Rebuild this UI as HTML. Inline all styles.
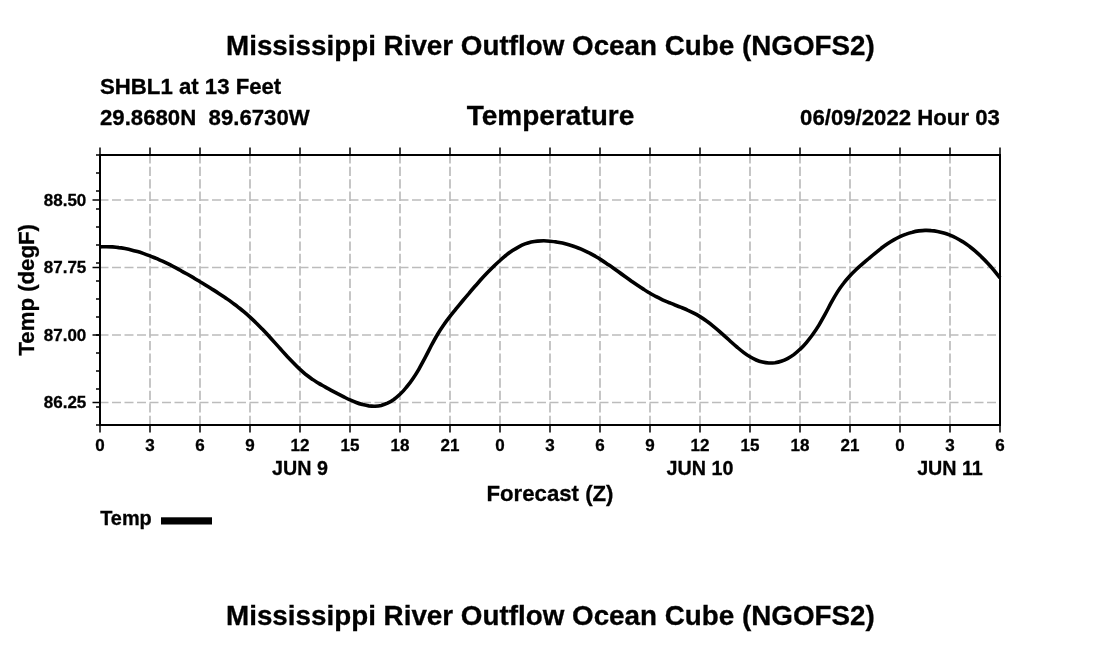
<!DOCTYPE html><html><head><meta charset="utf-8"><title>Mississippi River Outflow Ocean Cube (NGOFS2)</title>
<style>html,body{margin:0;padding:0;background:#fff}svg{display:block;will-change:transform;opacity:.999}text{font-family:"Liberation Sans",Arial,Helvetica,sans-serif;font-weight:bold;fill:#000;stroke:#000;stroke-width:.3px}</style></head><body>
<svg width="1100" height="650" viewBox="0 0 1100 650">
<rect width="1100" height="650" fill="#fff"/>
<g stroke="#bcbcbc" stroke-width="1.7" stroke-dasharray="9 3.5" fill="none"><line x1="150" y1="425" x2="150" y2="155" stroke-dasharray="9.3 3.15"/><line x1="200" y1="425" x2="200" y2="155" stroke-dasharray="9.3 3.15"/><line x1="250" y1="425" x2="250" y2="155" stroke-dasharray="9.3 3.15"/><line x1="300" y1="425" x2="300" y2="155" stroke-dasharray="9.3 3.15"/><line x1="350" y1="425" x2="350" y2="155" stroke-dasharray="9.3 3.15"/><line x1="400" y1="425" x2="400" y2="155" stroke-dasharray="9.3 3.15"/><line x1="450" y1="425" x2="450" y2="155" stroke-dasharray="9.3 3.15"/><line x1="500" y1="425" x2="500" y2="155" stroke-dasharray="9.3 3.15"/><line x1="550" y1="425" x2="550" y2="155" stroke-dasharray="9.3 3.15"/><line x1="600" y1="425" x2="600" y2="155" stroke-dasharray="9.3 3.15"/><line x1="650" y1="425" x2="650" y2="155" stroke-dasharray="9.3 3.15"/><line x1="700" y1="425" x2="700" y2="155" stroke-dasharray="9.3 3.15"/><line x1="750" y1="425" x2="750" y2="155" stroke-dasharray="9.3 3.15"/><line x1="800" y1="425" x2="800" y2="155" stroke-dasharray="9.3 3.15"/><line x1="850" y1="425" x2="850" y2="155" stroke-dasharray="9.3 3.15"/><line x1="900" y1="425" x2="900" y2="155" stroke-dasharray="9.3 3.15"/><line x1="950" y1="425" x2="950" y2="155" stroke-dasharray="9.3 3.15"/><line x1="99.5" y1="200" x2="1000" y2="200"/><line x1="99.5" y1="267.5" x2="1000" y2="267.5"/><line x1="99.5" y1="335" x2="1000" y2="335"/><line x1="99.5" y1="402.5" x2="1000" y2="402.5"/></g>
<g stroke="#000" stroke-width="1.5" fill="none"><line x1="100" y1="147.5" x2="100" y2="155"/><line x1="100" y1="425" x2="100" y2="432.5"/><line x1="150" y1="147.5" x2="150" y2="155"/><line x1="150" y1="425" x2="150" y2="432.5"/><line x1="200" y1="147.5" x2="200" y2="155"/><line x1="200" y1="425" x2="200" y2="432.5"/><line x1="250" y1="147.5" x2="250" y2="155"/><line x1="250" y1="425" x2="250" y2="432.5"/><line x1="300" y1="147.5" x2="300" y2="155"/><line x1="300" y1="425" x2="300" y2="432.5"/><line x1="350" y1="147.5" x2="350" y2="155"/><line x1="350" y1="425" x2="350" y2="432.5"/><line x1="400" y1="147.5" x2="400" y2="155"/><line x1="400" y1="425" x2="400" y2="432.5"/><line x1="450" y1="147.5" x2="450" y2="155"/><line x1="450" y1="425" x2="450" y2="432.5"/><line x1="500" y1="147.5" x2="500" y2="155"/><line x1="500" y1="425" x2="500" y2="432.5"/><line x1="550" y1="147.5" x2="550" y2="155"/><line x1="550" y1="425" x2="550" y2="432.5"/><line x1="600" y1="147.5" x2="600" y2="155"/><line x1="600" y1="425" x2="600" y2="432.5"/><line x1="650" y1="147.5" x2="650" y2="155"/><line x1="650" y1="425" x2="650" y2="432.5"/><line x1="700" y1="147.5" x2="700" y2="155"/><line x1="700" y1="425" x2="700" y2="432.5"/><line x1="750" y1="147.5" x2="750" y2="155"/><line x1="750" y1="425" x2="750" y2="432.5"/><line x1="800" y1="147.5" x2="800" y2="155"/><line x1="800" y1="425" x2="800" y2="432.5"/><line x1="850" y1="147.5" x2="850" y2="155"/><line x1="850" y1="425" x2="850" y2="432.5"/><line x1="900" y1="147.5" x2="900" y2="155"/><line x1="900" y1="425" x2="900" y2="432.5"/><line x1="950" y1="147.5" x2="950" y2="155"/><line x1="950" y1="425" x2="950" y2="432.5"/><line x1="1000" y1="147.5" x2="1000" y2="155"/><line x1="1000" y1="425" x2="1000" y2="432.5"/><line x1="96" y1="155" x2="100" y2="155"/><line x1="96" y1="173" x2="100" y2="173"/><line x1="96" y1="191" x2="100" y2="191"/><line x1="96" y1="209" x2="100" y2="209"/><line x1="96" y1="227" x2="100" y2="227"/><line x1="96" y1="245" x2="100" y2="245"/><line x1="96" y1="263" x2="100" y2="263"/><line x1="96" y1="281" x2="100" y2="281"/><line x1="96" y1="299" x2="100" y2="299"/><line x1="96" y1="317" x2="100" y2="317"/><line x1="96" y1="335" x2="100" y2="335"/><line x1="96" y1="353" x2="100" y2="353"/><line x1="96" y1="371" x2="100" y2="371"/><line x1="96" y1="389" x2="100" y2="389"/><line x1="96" y1="407" x2="100" y2="407"/><line x1="96" y1="425" x2="100" y2="425"/><line x1="92.5" y1="200" x2="100" y2="200"/><line x1="92.5" y1="267.5" x2="100" y2="267.5"/><line x1="92.5" y1="335" x2="100" y2="335"/><line x1="92.5" y1="402.5" x2="100" y2="402.5"/></g>
<path d="M100.0,246.9C101.0,246.9 104.2,246.7 106.2,246.7C108.3,246.7 110.4,246.8 112.5,246.9C114.6,247.1 116.7,247.3 118.8,247.6C120.8,247.8 122.9,248.2 125.0,248.6C127.1,249.0 129.2,249.4 131.2,249.9C133.3,250.4 135.4,251.0 137.5,251.6C139.6,252.2 141.7,252.9 143.8,253.6C145.8,254.3 147.9,255.1 150.0,255.9C152.1,256.7 154.2,257.6 156.2,258.4C158.3,259.3 160.4,260.3 162.5,261.2C164.6,262.2 166.7,263.2 168.8,264.2C170.8,265.3 172.9,266.3 175.0,267.4C177.1,268.5 179.2,269.6 181.2,270.8C183.3,271.9 185.4,273.1 187.5,274.3C189.6,275.5 191.7,276.7 193.8,277.9C195.8,279.2 197.9,280.4 200.0,281.7C202.1,282.9 204.2,284.2 206.2,285.5C208.3,286.8 210.4,288.0 212.5,289.4C214.6,290.7 216.7,292.0 218.8,293.4C220.8,294.7 222.9,296.1 225.0,297.5C227.1,299.0 229.2,300.4 231.2,301.9C233.3,303.5 235.4,305.0 237.5,306.6C239.6,308.3 241.7,309.9 243.8,311.7C245.8,313.4 247.9,315.2 250.0,317.1C252.1,319.0 254.2,321.0 256.2,323.0C258.3,325.0 260.4,327.2 262.5,329.3C264.6,331.5 266.7,333.7 268.8,336.0C270.8,338.3 272.9,340.6 275.0,342.9C277.1,345.2 279.2,347.5 281.2,349.8C283.3,352.1 285.4,354.4 287.5,356.7C289.6,358.9 291.7,361.1 293.8,363.2C295.8,365.3 297.9,367.4 300.0,369.3C302.1,371.2 304.2,373.1 306.2,374.8C308.3,376.4 310.4,378.0 312.5,379.4C314.6,380.9 316.7,382.1 318.8,383.4C320.8,384.6 322.9,385.7 325.0,386.9C327.1,388.1 329.2,389.2 331.2,390.3C333.3,391.4 335.4,392.5 337.5,393.6C339.6,394.7 341.7,395.8 343.8,396.9C345.8,397.9 347.9,399.0 350.0,399.9C352.1,400.8 354.2,401.7 356.2,402.5C358.3,403.3 360.4,404.0 362.5,404.6C364.6,405.1 366.7,405.6 368.8,405.9C370.8,406.1 372.9,406.3 375.0,406.2C377.1,406.1 379.2,405.9 381.2,405.4C383.3,404.8 385.4,404.1 387.5,403.2C389.6,402.2 391.7,401.0 393.8,399.5C395.8,398.0 397.9,396.3 400.0,394.3C402.1,392.3 404.2,390.1 406.2,387.5C408.3,385.0 410.4,382.3 412.5,379.2C414.6,376.2 416.7,372.9 418.8,369.3C420.8,365.7 422.9,361.8 425.0,357.9C427.1,353.9 429.2,349.7 431.2,345.8C433.3,341.9 435.4,338.0 437.5,334.5C439.6,331.0 441.7,327.8 443.8,324.8C445.8,321.8 447.9,319.1 450.0,316.4C452.1,313.7 454.2,311.2 456.2,308.6C458.3,306.1 460.4,303.5 462.5,301.0C464.6,298.5 466.7,296.0 468.8,293.6C470.8,291.1 472.9,288.7 475.0,286.3C477.1,283.9 479.2,281.6 481.2,279.3C483.3,277.0 485.4,274.8 487.5,272.6C489.6,270.5 491.7,268.4 493.8,266.3C495.8,264.3 497.9,262.3 500.0,260.5C502.1,258.6 504.2,256.9 506.2,255.2C508.3,253.5 510.4,252.0 512.5,250.6C514.6,249.2 516.7,247.9 518.8,246.8C520.8,245.7 522.9,244.7 525.0,243.9C527.1,243.1 529.2,242.5 531.2,242.0C533.3,241.6 535.4,241.3 537.5,241.1C539.6,240.9 541.7,240.8 543.8,240.8C545.8,240.8 547.9,241.0 550.0,241.2C552.1,241.4 554.2,241.6 556.2,241.9C558.3,242.3 560.4,242.7 562.5,243.1C564.6,243.6 566.7,244.1 568.8,244.7C570.8,245.3 572.9,246.0 575.0,246.8C577.1,247.5 579.2,248.3 581.2,249.2C583.3,250.1 585.4,251.1 587.5,252.1C589.6,253.1 591.7,254.2 593.8,255.4C595.8,256.6 597.9,257.8 600.0,259.1C602.1,260.4 604.2,261.8 606.2,263.2C608.3,264.6 610.4,266.1 612.5,267.5C614.6,269.0 616.7,270.5 618.8,272.0C620.8,273.5 622.9,275.0 625.0,276.5C627.1,278.0 629.2,279.5 631.2,281.0C633.3,282.5 635.4,283.9 637.5,285.3C639.6,286.7 641.7,288.1 643.8,289.4C645.8,290.8 647.9,292.0 650.0,293.3C652.1,294.5 654.2,295.6 656.2,296.7C658.3,297.8 660.4,298.8 662.5,299.8C664.6,300.8 666.7,301.6 668.8,302.5C670.8,303.3 672.9,304.1 675.0,305.0C677.1,305.8 679.2,306.6 681.2,307.4C683.3,308.3 685.4,309.1 687.5,310.1C689.6,311.0 691.7,312.0 693.8,313.1C695.8,314.1 697.9,315.3 700.0,316.6C702.1,317.9 704.2,319.3 706.2,320.8C708.3,322.3 710.4,323.9 712.5,325.6C714.6,327.3 716.7,329.0 718.8,330.8C720.8,332.6 722.9,334.5 725.0,336.4C727.1,338.2 729.2,340.2 731.2,342.0C733.3,343.9 735.4,345.8 737.5,347.5C739.6,349.3 741.7,351.0 743.8,352.6C745.8,354.1 747.9,355.6 750.0,356.8C752.1,358.1 754.2,359.1 756.2,360.0C758.3,360.9 760.4,361.6 762.5,362.1C764.6,362.6 766.7,362.9 768.8,363.0C770.8,363.1 772.9,363.0 775.0,362.8C777.1,362.5 779.2,362.0 781.2,361.3C783.3,360.6 785.4,359.7 787.5,358.6C789.6,357.5 791.7,356.1 793.8,354.6C795.8,353.1 797.9,351.3 800.0,349.3C802.1,347.4 804.2,345.2 806.2,342.8C808.3,340.3 810.4,337.7 812.5,334.8C814.6,331.9 816.7,328.8 818.8,325.4C820.8,322.0 822.9,318.2 825.0,314.4C827.1,310.6 829.2,306.4 831.2,302.7C833.3,298.9 835.4,295.2 837.5,291.9C839.6,288.6 841.7,285.7 843.8,283.0C845.8,280.3 847.9,278.0 850.0,275.7C852.1,273.4 854.2,271.4 856.2,269.5C858.3,267.5 860.4,265.7 862.5,263.9C864.6,262.1 866.7,260.3 868.8,258.5C870.8,256.8 872.9,255.0 875.0,253.3C877.1,251.6 879.2,249.9 881.2,248.3C883.3,246.7 885.4,245.2 887.5,243.8C889.6,242.4 891.7,241.1 893.8,239.9C895.8,238.7 897.9,237.6 900.0,236.6C902.1,235.6 904.2,234.8 906.2,234.1C908.3,233.3 910.4,232.7 912.5,232.2C914.6,231.6 916.7,231.2 918.8,230.9C920.8,230.7 922.9,230.5 925.0,230.4C927.1,230.3 929.2,230.4 931.2,230.6C933.3,230.7 935.4,231.0 937.5,231.4C939.6,231.8 941.7,232.3 943.8,232.9C945.8,233.5 947.9,234.3 950.0,235.1C952.1,236.0 954.2,237.0 956.2,238.0C958.3,239.1 960.4,240.3 962.5,241.6C964.6,243.0 966.7,244.4 968.8,245.9C970.8,247.5 972.9,249.1 975.0,250.9C977.1,252.7 979.2,254.6 981.2,256.6C983.3,258.6 985.4,260.7 987.5,263.0C989.6,265.2 991.7,267.6 993.8,270.1C995.8,272.6 999.0,276.6 1000.0,277.9" fill="none" stroke="#000" stroke-width="3.6" stroke-linejoin="round"/>
<rect x="100" y="155" width="900" height="270" fill="none" stroke="#000" stroke-width="2"/>
<text x="550.4" y="54.6" font-size="27.8" text-anchor="middle">Mississippi River Outflow Ocean Cube (NGOFS2)</text>
<text x="550.4" y="624.6" font-size="27.8" text-anchor="middle">Mississippi River Outflow Ocean Cube (NGOFS2)</text>
<text x="100" y="94.4" font-size="22.2">SHBL1 at 13 Feet</text>
<text x="100" y="124.6" font-size="22.2" xml:space="preserve">29.8680N  89.6730W</text>
<text x="550.5" y="125" font-size="28" text-anchor="middle">Temperature</text>
<text x="999.9" y="124.5" font-size="22.2" text-anchor="end">06/09/2022 Hour 03</text>
<text x="86.3" y="205.8" font-size="17" text-anchor="end">88.50</text>
<text x="86.3" y="273.3" font-size="17" text-anchor="end">87.75</text>
<text x="86.3" y="340.8" font-size="17" text-anchor="end">87.00</text>
<text x="86.3" y="408.3" font-size="17" text-anchor="end">86.25</text>
<text transform="translate(34,289.8) rotate(-90)" font-size="22.2" text-anchor="middle">Temp (degF)</text>
<text x="100" y="451.3" font-size="17" text-anchor="middle">0</text>
<text x="150" y="451.3" font-size="17" text-anchor="middle">3</text>
<text x="200" y="451.3" font-size="17" text-anchor="middle">6</text>
<text x="250" y="451.3" font-size="17" text-anchor="middle">9</text>
<text x="300" y="451.3" font-size="17" text-anchor="middle">12</text>
<text x="350" y="451.3" font-size="17" text-anchor="middle">15</text>
<text x="400" y="451.3" font-size="17" text-anchor="middle">18</text>
<text x="450" y="451.3" font-size="17" text-anchor="middle">21</text>
<text x="500" y="451.3" font-size="17" text-anchor="middle">0</text>
<text x="550" y="451.3" font-size="17" text-anchor="middle">3</text>
<text x="600" y="451.3" font-size="17" text-anchor="middle">6</text>
<text x="650" y="451.3" font-size="17" text-anchor="middle">9</text>
<text x="700" y="451.3" font-size="17" text-anchor="middle">12</text>
<text x="750" y="451.3" font-size="17" text-anchor="middle">15</text>
<text x="800" y="451.3" font-size="17" text-anchor="middle">18</text>
<text x="850" y="451.3" font-size="17" text-anchor="middle">21</text>
<text x="900" y="451.3" font-size="17" text-anchor="middle">0</text>
<text x="950" y="451.3" font-size="17" text-anchor="middle">3</text>
<text x="1000" y="451.3" font-size="17" text-anchor="middle">6</text>
<text x="300" y="474.7" font-size="19.7" text-anchor="middle">JUN 9</text>
<text x="700" y="474.7" font-size="19.7" text-anchor="middle">JUN 10</text>
<text x="950" y="474.7" font-size="19.7" text-anchor="middle">JUN 11</text>
<text x="550" y="500.6" font-size="22.2" text-anchor="middle">Forecast (Z)</text>
<text x="100.2" y="524.7" font-size="19.9">Temp</text>
<rect x="161" y="517.3" width="51" height="7.2" fill="#000"/>
</svg></body></html>
